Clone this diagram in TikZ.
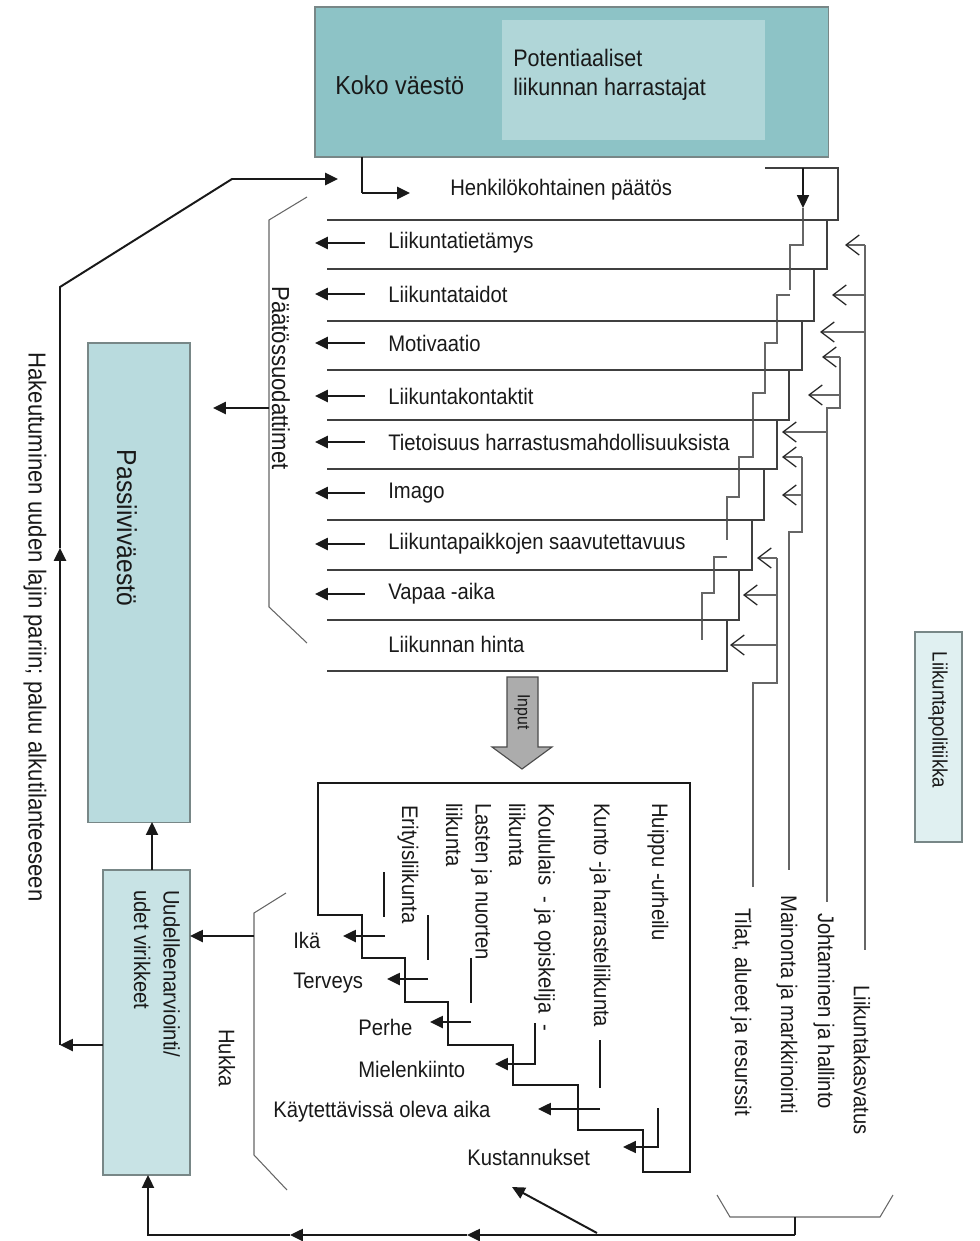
\documentclass[tikz,border=0pt]{standalone}
\usepackage{fontspec}
\setmainfont{Liberation Sans}[FakeStretch=0.9]
\usetikzlibrary{arrows.meta,positioning}

\definecolor{kokoteal}{RGB}{141,195,198}
\definecolor{potteal}{RGB}{176,214,216}
\definecolor{passteal}{RGB}{185,219,222}
\definecolor{uudteal}{RGB}{200,227,229}
\definecolor{politeal}{RGB}{224,240,241}
\definecolor{boxgray}{RGB}{120,135,135}
\definecolor{textdark}{RGB}{25,25,25}

\begin{document}
\begin{tikzpicture}[x=0.025cm, y=-0.025cm,
    box/.style={draw=boxgray, line width=0.8pt, inner sep=0, outer sep=0},
    ln/.style={line width=1.4pt, black!90},
    arr/.style={ln, -{Triangle[length=3.2mm,width=3mm]}},
    rowln/.style={line width=1.1pt, black!75},
    thinln/.style={line width=0.75pt, black!60},
    oarr/.style={thinln, -{Straight Barb[length=3.3mm,width=5mm,line width=0.9pt,color=black!85]}},
    lbl/.style={font=\fontsize{16}{21}\selectfont, inner sep=0, anchor=west, text=textdark},
    vlbl/.style={lbl, rotate=-90, align=left},
  ]
    \useasboundingbox (0,0) rectangle (979,1241);

    % Population boxes
    \node[box, fill=kokoteal, minimum width=12.825cm, minimum height=3.75cm] (kokobox) at (571.5,82) {};
    \node[inner sep=0, fill=potteal, minimum width=6.575cm, minimum height=3cm] (potbox) at (633.5,80) {};
    \node[lbl, font=\fontsize{18.5}{22}\selectfont] (koko) at (335,85) {Koko väestö};
    \node[lbl, align=left, font=\fontsize{17}{21}\selectfont] (pot) at (513,75) {Potentiaaliset\\liikunnan harrastajat};

    \node[box, fill=passteal, minimum width=2.55cm, minimum height=11.975cm] (passive) at (139,582.5) {};
    \node[vlbl, anchor=center, font=\fontsize{19.5}{22}\selectfont] (passlbl) at (127,528) {Passiiviväestö};
    \node[box, fill=uudteal, minimum width=2.175cm, minimum height=7.625cm] (uud) at (146.5,1022.5) {};
    \node[vlbl] (uudlbl) at (157,890) {Uudelleenarviointi/\\udet virikkeet};
    \node[box, fill=politeal, minimum width=1.175cm, minimum height=5.25cm] (polbox) at (938.5,737) {};
    \node[vlbl, anchor=center, font=\fontsize{14.8}{18}\selectfont] (pollbl) at (938,720) {Liikuntapolitiikka};

    % Return loop
    \node[vlbl, anchor=center, font=\fontsize{17.5}{21}\selectfont] (hake) at (35,627) {Hakeutuminen uuden lajin pariin; paluu alkutilanteeseen};
    \draw[arr] (uud.west |- 0,1045) -- (60,1045);
    \draw[arr] (60,1045) -- (60,548);
    \draw[arr] (60,548) -- (60,287) -- (232,179) -- (338,179);

    % Personal decision
    \draw[ln] (kokobox.south -| 362,0) -- (362,193);
    \draw[arr] (362,193) -- (410,193);
    \node[lbl] (paatos) at (450,190) {Henkilökohtainen päätös};

    % Filter rows
    \draw[rowln] (765,168) -- (838,168) -- (838,220) -- (327,220);
    \draw[rowln] (827,220) -- (827,269) -- (327,269);
    \draw[rowln, line width=1.6pt] (814,269) -- (814,321) -- (327,321);
    \draw[rowln] (802,321) -- (802,370) -- (327,370);
    \draw[rowln] (789,370) -- (789,420) -- (327,420);
    \draw[rowln] (777,420) -- (777,469) -- (327,469);
    \draw[rowln] (764,469) -- (764,520) -- (327,520);
    \draw[rowln] (752,520) -- (752,570) -- (327,570);
    \draw[rowln] (739,570) -- (739,620) -- (327,620);
    \draw[rowln] (727,620) -- (727,671) -- (327,671);

    \node[lbl] (f1) at (388,243) {Liikuntatietämys};
    \node[lbl] (f2) at (388,294) {Liikuntataidot};
    \node[lbl] (f3) at (388,343) {Motivaatio};
    \node[lbl] (f4) at (388,396) {Liikuntakontaktit};
    \node[lbl] (f5) at (388,442) {Tietoisuus harrastusmahdollisuuksista};
    \node[lbl] (f6) at (388,493) {Imago};
    \node[lbl] (f7) at (388,544) {Liikuntapaikkojen saavutettavuus};
    \node[lbl] (f8) at (388,594) {Vapaa -aika};
    \node[lbl] (f9) at (388,644) {Liikunnan hinta};
    \draw[arr] ([xshift=-5.75mm]f1.west) -- ++(-50,0);
    \draw[arr] ([xshift=-5.75mm]f2.west) -- ++(-50,0);
    \draw[arr] ([xshift=-5.75mm]f3.west) -- ++(-50,0);
    \draw[arr] ([xshift=-5.75mm]f4.west) -- ++(-50,0);
    \draw[arr] ([xshift=-5.75mm]f5.west) -- ++(-50,0);
    \draw[arr] ([xshift=-5.75mm]f6.west) -- ++(-50,0);
    \draw[arr] ([xshift=-5.75mm]f7.west) -- ++(-50,0);
    \draw[arr] ([xshift=-5.75mm]f8.west) -- ++(-50,0);

    % Filter bracket
    \draw[thinln] (307,197) -- (269,220) -- (269,607) -- (307,643);
    \node[vlbl, anchor=center, font=\fontsize{17.5}{21}\selectfont] (suod) at (281,378) {Päätössuodattimet};
    \draw[arr] (269,408) -- (213,408);

    % Inner staircase through the filters
    \draw[arr, line width=1.1pt] (803,168) -- (803,208);
    \draw[thinln] (803,208) -- (803,245) -- (790,245) -- (790,290)
        (790,295) -- (777,295) -- (777,343) -- (765,343) -- (765,393)
        -- (753,393) -- (753,457) -- (739,457) -- (739,497) -- (727,497) -- (727,540)
        (727,557) -- (714,557) -- (714,593) -- (702,593) -- (702,640);
    \foreach \p in {(803,220),(790,269),(777,321),(765,370),(753,420),(739,469),(727,520),(714,570),(702,620)}
        \fill[black!70] \p circle (1.2pt);

    % Policy lines
    \draw[thinln] (865,245) -- (865,950);
    \draw[oarr] (865,245) -- (845,245);
    \draw[oarr] (865,295) -- (832,295);
    \draw[oarr] (865,332) -- (820,332);
    \draw[thinln] (840,357) -- (840,408) -- (827,408) -- (827,902);
    \draw[oarr] (840,357) -- (822,357);
    \draw[oarr] (840,395) -- (808,395);
    \draw[oarr] (827,432) -- (782,432);
    \draw[thinln] (802,457) -- (802,532) -- (789,532) -- (789,870);
    \draw[oarr] (802,457) -- (782,457);
    \draw[oarr] (802,495) -- (782,495);
    \draw[thinln] (777,558) -- (777,683) -- (753,683) -- (753,887);
    \draw[oarr] (777,558) -- (757,558);
    \draw[oarr] (777,595) -- (743,595);
    \draw[oarr] (777,645) -- (730,645);

    \node[vlbl] (kasv) at (862,985) {Liikuntakasvatus};
    \node[vlbl] (johto) at (824,913) {Johtaminen ja hallinto};
    \node[vlbl] (main) at (787,895) {Mainonta ja markkinointi};
    \node[vlbl] (tilat) at (741,908) {Tilat, alueet ja resurssit};

    % Input arrow
    \draw[fill=gray!65, draw=black!70, line width=0.8pt] (507,677) -- (538,677) -- (538,747) -- (552,747)
        -- (522,769) -- (492,747) -- (507,747) -- cycle;
    \node[vlbl, anchor=center, font=\fontsize{12.5}{15}\selectfont] (input) at (522,712) {Input};

    % Sport forms box with staircase
    \draw[ln] (318,915) -- (318,783) -- (690,783) -- (690,1172) -- (643,1172) -- (643,1130)
        -- (578,1130) -- (578,1085) -- (513,1085) -- (513,1045) -- (448,1045) -- (448,1002)
        -- (405,1002) -- (405,958) -- (362,958) -- (362,915) -- cycle;

    \node[vlbl] (huippu) at (658,803) {Huippu -urheilu};
    \node[vlbl] (kunto) at (600,803) {Kunto -ja harrasteliikunta};
    \node[vlbl] (koulu) at (532,803) {Koululais \ - ja opiskelija \ -\\liikunta};
    \node[vlbl] (lasten) at (469,803) {Lasten ja nuorten\\liikunta};
    \node[vlbl] (erit) at (408,805) {Erityisliikunta};

    \node[lbl] (b1) at (293,940) {Ikä};
    \node[lbl] (b2) at (293,983) {Terveys};
    \node[lbl] (b3) at (358,1027) {Perhe};
    \node[lbl] (b4) at (358,1069) {Mielenkiinto};
    \node[lbl] (b5) at (273,1112) {Käytettävissä oleva aika};
    \node[lbl] (b6) at (467,1157) {Kustannukset};

    \draw[ln, line width=1.1pt] (384,872) -- (384,917);
    \draw[arr] (385,936) -- (343,936);
    \draw[ln, line width=1.1pt] (428,915) -- (428,960);
    \draw[arr] (428,979) -- (387,979);
    \draw[ln, line width=1.1pt] (471,958) -- (471,1003);
    \draw[arr] (471,1022) -- (430,1022);
    \draw[arr] (535,1023) -- (535,1064) -- (495,1064);
    \draw[ln, line width=1.1pt] (600,1040) -- (600,1088);
    \draw[arr] (600,1109) -- (538,1109);
    \draw[arr, line width=1.1pt] (658,1108) -- (658,1147) -- (623,1147);

    % Waste bracket
    \draw[thinln] (286,893) -- (254,913) -- (254,1155) -- (287,1190);
    \node[vlbl, anchor=center] (hukka) at (227,1058) {Hukka};
    \draw[arr] (254,936) -- (uud.east |- 0,936);
    \draw[arr] (uud.north -| 152,0) -- (passive.south -| 152,0);

    % Policy bracket and feedback
    \draw[thinln] (717,1195) -- (730,1217) -- (880,1217) -- (893,1195);
    \draw[ln] (795,1217) -- (795,1235);
    \draw[arr] (795,1235) -- (467,1235);
    \draw[arr] (467,1235) -- (290,1235);
    \draw[arr] (290,1235) -- (148,1235) -- (uud.south -| 148,0);
    \draw[arr] (597,1233) -- (512,1187);
\end{tikzpicture}
\end{document}
